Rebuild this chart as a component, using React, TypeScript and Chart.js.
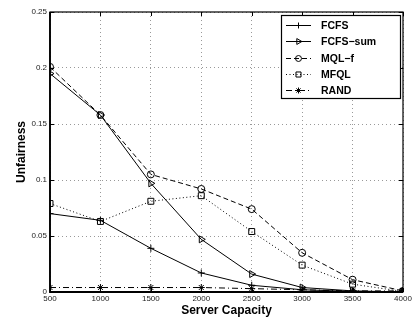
import React, { useEffect, useRef } from 'react';
import { Chart, registerables } from 'chart.js';

Chart.register(...registerables);

const capacities = [500, 1000, 1500, 2000, 2500, 3000, 3500, 4000];
const fcfs = [0.070, 0.064, 0.039, 0.017, 0.006, 0.002, 0.0005, 0];
const fcfsSum = [0.195, 0.158, 0.097, 0.047, 0.016, 0.004, 0.001, 0];
const mqlF = [0.201, 0.158, 0.105, 0.092, 0.074, 0.035, 0.011, 0.001];
const mfql = [0.079, 0.063, 0.081, 0.086, 0.054, 0.024, 0.007, 0.0005];
const rand = [0.004, 0.004, 0.004, 0.004, 0.003, 0.002, 0.001, 0.001];
const seriesNames = ['FCFS', 'FCFS\u2212sum', 'MQL\u2212f', 'MFQL', 'RAND'];
const yTicks = [0, 0.05, 0.1, 0.15, 0.2, 0.25];
const yTickLabels = ['0', '0.05', '0.1', '0.15', '0.2', '0.25'];
const xTickLabels = ['500', '1000', '1500', '2000', '2500', '3000', '3500', '4000'];

const FONT = '"Liberation Sans", Arial, Helvetica, sans-serif';

type Marker = 'cross' | 'triRight' | 'circle' | 'rect' | 'star';
const styles: { dash: number[]; marker: Marker; radius: number }[] = [
  { dash: [], marker: 'cross', radius: 3.5 },
  { dash: [], marker: 'triRight', radius: 4 },
  { dash: [5, 3], marker: 'circle', radius: 3.5 },
  { dash: [1, 2.5], marker: 'rect', radius: 4.2 },
  { dash: [6, 3, 1, 3], marker: 'star', radius: 3.5 },
];

function drawMarker(ctx: CanvasRenderingContext2D, m: Marker, x: number, y: number, r: number) {
  ctx.save();
  ctx.setLineDash([]);
  ctx.lineWidth = 1;
  ctx.strokeStyle = '#000';
  ctx.beginPath();
  if (m === 'cross') {
    ctx.moveTo(x - r, y); ctx.lineTo(x + r, y);
    ctx.moveTo(x, y - r); ctx.lineTo(x, y + r);
  } else if (m === 'triRight') {
    ctx.moveTo(x + r, y);
    ctx.lineTo(x - r * 0.5, y - r * 0.866);
    ctx.lineTo(x - r * 0.5, y + r * 0.866);
    ctx.closePath();
  } else if (m === 'circle') {
    ctx.arc(x, y, r, 0, Math.PI * 2);
  } else if (m === 'rect') {
    const s = r * Math.SQRT1_2;
    ctx.rect(x - s, y - s, 2 * s, 2 * s);
  } else {
    ctx.moveTo(x - r, y); ctx.lineTo(x + r, y);
    ctx.moveTo(x, y - r); ctx.lineTo(x, y + r);
    const d = r * Math.SQRT1_2;
    ctx.moveTo(x - d, y - d); ctx.lineTo(x + d, y + d);
    ctx.moveTo(x - d, y + d); ctx.lineTo(x + d, y - d);
  }
  ctx.stroke();
  ctx.restore();
}

const pointStyleMap: Record<Marker, string> = {
  cross: 'cross', triRight: 'triangle', circle: 'circle', rect: 'rect', star: 'star',
};

const framePlugin = {
  id: 'frameAndLegend',
  afterDatasetsDraw(chart: any) {
    const { ctx, chartArea, scales } = chart;
    const { left, right, top, bottom } = chartArea;
    const x = scales.x;
    const y = scales.y;
    ctx.save();
    ctx.setLineDash([]);
    ctx.strokeStyle = '#000';
    ctx.lineWidth = 1;
    ctx.beginPath();
    for (const v of capacities) {
      const px = Math.round(x.getPixelForValue(v)) + 0.5;
      ctx.moveTo(px, bottom); ctx.lineTo(px, bottom - 4);
      ctx.moveTo(px, top); ctx.lineTo(px, top + 4);
    }
    for (const v of yTicks) {
      const py = Math.round(y.getPixelForValue(v)) + 0.5;
      ctx.moveTo(left, py); ctx.lineTo(left + 4, py);
      ctx.moveTo(right, py); ctx.lineTo(right - 4, py);
    }
    ctx.stroke();
    // frame
    ctx.lineWidth = 1.2;
    ctx.strokeRect(left, top, right - left, bottom - top);
    ctx.lineWidth = 1.8;
    ctx.beginPath();
    ctx.moveTo(left, top); ctx.lineTo(left, bottom); ctx.lineTo(right, bottom);
    ctx.stroke();

    // legend
    const lx = 281, ly = 15, lw = 119, lh = 83;
    ctx.fillStyle = '#fff';
    ctx.fillRect(lx, ly, lw, lh);
    ctx.lineWidth = 1.2;
    ctx.strokeStyle = '#000';
    ctx.strokeRect(lx + 0.5, ly + 0.5, lw, lh);
    ctx.font = `bold 10.5px ${FONT}`;
    ctx.textBaseline = 'middle';
    ctx.textAlign = 'left';
    ctx.fillStyle = '#000';
    seriesNames.forEach((name, i) => {
      const cy = Math.round(25 + i * 16.3) + 0.5;
      const st = styles[i];
      ctx.save();
      ctx.lineWidth = 1;
      ctx.setLineDash(st.dash);
      ctx.beginPath();
      ctx.moveTo(286, cy); ctx.lineTo(311, cy);
      ctx.stroke();
      ctx.restore();
      drawMarker(ctx, st.marker, 298.5, cy, st.radius * 0.85);
      ctx.fillText(name, 321, cy + 0.5);
    });
    ctx.restore();
  },
};

export default function App() {
  const ref = useRef<HTMLCanvasElement | null>(null);
  useEffect(() => {
    if (!ref.current) return;
    const seriesValues = [fcfs, fcfsSum, mqlF, mfql, rand];
    const chart = new Chart(ref.current, {
      type: 'line',
      data: {
        datasets: seriesValues.map((vals, i) => ({
          label: seriesNames[i],
          data: vals.map((v, j) => ({ x: capacities[j], y: v })),
          borderColor: '#000',
          borderWidth: 1,
          borderDash: styles[i].dash,
          backgroundColor: 'rgba(0,0,0,0)',
          pointStyle: pointStyleMap[styles[i].marker] as any,
          pointRotation: styles[i].marker === 'triRight' ? 90 : 0,
          pointRadius: styles[i].radius,
          pointBorderWidth: 1,
          pointBorderColor: '#000',
          pointBackgroundColor: 'rgba(0,0,0,0)',
          tension: 0,
          fill: false,
        })),
      },
      options: {
        responsive: false,
        animation: false,
        devicePixelRatio: 1,
        layout: { padding: { left: 0, right: 14, top: 12, bottom: 0 } },
        plugins: { legend: { display: false }, tooltip: { enabled: false } },
        scales: {
          x: {
            type: 'linear',
            min: 500,
            max: 4000,
            afterFit: (s: any) => { s.height = 30; },
            afterBuildTicks: (s: any) => { s.ticks = capacities.map((v) => ({ value: v })); },
            ticks: {
              stepSize: 500,
              autoSkip: false,
              maxRotation: 0,
              padding: 2,
              color: '#222',
              font: { family: FONT, size: 8 },
              callback: (v: any) => {
                const i = capacities.indexOf(Number(v));
                return i >= 0 ? xTickLabels[i] : '';
              },
            },
            grid: { color: '#999', lineWidth: 1, drawTicks: false },
            border: { display: false, dash: [1, 3] },
            title: {
              display: true,
              text: 'Server Capacity',
              color: '#000',
              font: { family: FONT, size: 12, weight: 'bold' },
              padding: { top: 0, bottom: 4.5 },
            },
          },
          y: {
            type: 'linear',
            min: 0,
            max: 0.25,
            afterFit: (s: any) => { s.width = 50; },
            afterBuildTicks: (s: any) => { s.ticks = yTicks.map((v) => ({ value: v })); },
            ticks: {
              stepSize: 0.05,
              padding: 3,
              color: '#222',
              font: { family: FONT, size: 8 },
              callback: (v: any) => {
                const i = yTicks.findIndex((t) => Math.abs(t - Number(v)) < 1e-9);
                return i >= 0 ? yTickLabels[i] : '';
              },
            },
            grid: { color: '#999', lineWidth: 1, drawTicks: false },
            border: { display: false, dash: [1, 3] },
            title: {
              display: true,
              text: 'Unfairness',
              color: '#000',
              font: { family: FONT, size: 12, weight: 'bold' },
              padding: { top: 14.5, bottom: 0 },
            },
          },
        },
      },
      plugins: [framePlugin],
    });
    return () => chart.destroy();
  }, []);
  return (
    <div style={{ position: 'fixed', left: 0, top: 0, width: 417, height: 322, background: '#fff' }}>
      <canvas ref={ref} width={417} height={322} style={{ display: 'block' }} />
    </div>
  );
}
